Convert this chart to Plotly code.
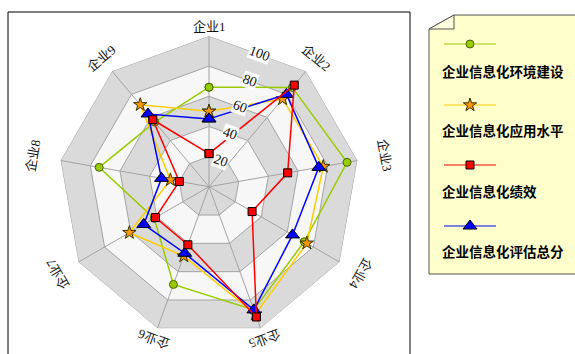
import math
import plotly.graph_objects as go

# ---- data -------------------------------------------------------------
categories = ["企业1", "企业2", "企业3", "企业4", "企业5", "企业6", "企业7", "企业8", "企业9"]
env_build = [66, 86, 93, 73, 87, 69, 42, 74, 56]      # 企业信息化环境建设
app_level = [50, 76, 77, 75, 90, 49, 61, 26, 71]      # 企业信息化应用水平
performance = [22, 88, 53, 33, 92, 41, 41, 20, 58]    # 企业信息化绩效
total_score = [45, 80, 74, 64, 87, 47, 50, 32, 63]    # 企业信息化评估总分
radial_ticks = [20, 40, 60, 80, 100]

series = [
    dict(name="企业信息化环境建设", values=env_build, line="#99cc00",
         marker=dict(symbol="circle", size=8, color="#99cc00", line=dict(color="#4a6300", width=1))),
    dict(name="企业信息化应用水平", values=app_level, line="#ffcc00",
         marker=dict(symbol="star", size=10, color="#ff9900", line=dict(color="#333300", width=1))),
    dict(name="企业信息化绩效", values=performance, line="#ff0000",
         marker=dict(symbol="square", size=8, color="#ff0000", line=dict(color="#000000", width=1))),
    dict(name="企业信息化评估总分", values=total_score, line="#0000ff",
         marker=dict(symbol="triangle-up", size=12, color="#0000ff", line=dict(color="#000000", width=1))),
]
draw_order = [0, 1, 3, 2]

# ---- geometry ---------------------------------------------------------
W, H = 575, 354
CX, CY, R = 209, 186.7, 150.7
RMAX = 100
TICK_DIR = 20  # degrees clockwise from top where radial labels sit

def px(x):
    return x / W

def py(y):
    return 1 - y / H

def polar_xy(r_px, deg):
    a = math.radians(deg)
    return CX + r_px * math.sin(a), CY - r_px * math.cos(a)

fig = go.Figure()

closed = categories + [categories[0]]

# alternating grey / white bands, outermost first
band_colors = {100: "#dadada", 80: "#f7f7f7", 60: "#dadada", 40: "#f7f7f7", 20: "#dadada"}
for lvl in sorted(radial_ticks, reverse=True):
    fig.add_trace(go.Scatterpolar(
        r=[lvl] * len(closed), theta=closed, mode="lines", fill="toself",
        fillcolor=band_colors[lvl], line=dict(color="#a3a3a3", width=1),
        hoverinfo="skip", showlegend=False))

# spokes
spoke_r, spoke_t = [], []
for c in categories:
    spoke_r += [0, RMAX, None]
    spoke_t += [c, c, None]
fig.add_trace(go.Scatterpolar(r=spoke_r, theta=spoke_t, mode="lines",
                              line=dict(color="#a3a3a3", width=1),
                              hoverinfo="skip", showlegend=False, connectgaps=False))

# data series
for i in draw_order:
    s = series[i]
    fig.add_trace(go.Scatterpolar(
        r=s["values"] + [s["values"][0]], theta=closed, mode="lines+markers",
        name=s["name"], line=dict(color=s["line"], width=1.5),
        marker=s["marker"], showlegend=False))

annotations = []

# category labels, rotated tangentially
n = len(categories)
for i, c in enumerate(categories):
    deg = i * 360 / n
    r_lab = 160 + 19 * math.sin(math.radians(deg)) ** 2
    x, y = polar_xy(r_lab, deg)
    annotations.append(dict(
        x=px(x), y=py(y), xref="paper", yref="paper", text=c, showarrow=False,
        textangle=deg, xanchor="center", yanchor="middle",
        font=dict(family="Liberation Serif, Noto Sans CJK SC", size=13, color="#111111")))

# radial tick labels on the polygon edges
for v in radial_ticks:
    r_lab = v / RMAX * R * math.cos(math.radians(180 / n))
    x, y = polar_xy(r_lab, TICK_DIR)
    annotations.append(dict(
        x=px(x + 2), y=py(y), xref="paper", yref="paper", text=str(v), showarrow=False,
        textangle=TICK_DIR, xanchor="center", yanchor="middle", bgcolor="#ffffff",
        borderpad=0,
        font=dict(family="Liberation Serif, Noto Sans CJK SC", size=14, color="#111111")))

# ---- legend panel -----------------------------------------------------
LX0, LY0, LY1, FOLD = 429, 15, 274, 14
leg_line_y = [44, 105, 165, 226]
leg_text_y = [71, 130, 191, 251]

shapes = [
    dict(type="rect", xref="paper", yref="paper", x0=px(8), x1=px(410), y0=py(400), y1=py(12),
         line=dict(color="#000000", width=1), fillcolor="rgba(0,0,0,0)", layer="below"),
    dict(type="path", xref="paper", yref="paper",
         path=(f"M {px(LX0 + 25)} {py(LY0)} L {px(600)} {py(LY0)} L {px(600)} {py(LY1)} "
               f"L {px(LX0)} {py(LY1)} L {px(LX0)} {py(LY0 + FOLD)} Z"),
         fillcolor="#ffffcc", line=dict(color="#555555", width=1), layer="below"),
    dict(type="path", xref="paper", yref="paper",
         path=(f"M {px(LX0)} {py(LY0 + FOLD)} L {px(LX0 + 25)} {py(LY0)} "
               f"L {px(LX0 + 25)} {py(LY0 + FOLD)} Z"),
         fillcolor="#ffffdd", line=dict(color="#555555", width=1), layer="below"),
]

for k, s in enumerate(series):
    y = leg_line_y[k]
    fig.add_trace(go.Scatter(x=[444, 496], y=[y, y], mode="lines",
                             line=dict(color=s["line"], width=1.2),
                             xaxis="x", yaxis="y", hoverinfo="skip", showlegend=False))
    fig.add_trace(go.Scatter(x=[470], y=[y], mode="markers", marker=s["marker"],
                             xaxis="x", yaxis="y", hoverinfo="skip", showlegend=False))
    annotations.append(dict(
        x=px(440), y=py(leg_text_y[k]), xref="paper", yref="paper", text=f"<b>{s['name']}</b>",
        showarrow=False, xanchor="left", yanchor="middle",
        font=dict(family="Noto Sans CJK SC", size=13.5, color="#000000")))

fig.update_layout(
    width=W, height=H, margin=dict(l=0, r=0, t=0, b=0),
    paper_bgcolor="#ffffff", plot_bgcolor="rgba(0,0,0,0)",
    showlegend=False,
    xaxis=dict(range=[0, W], domain=[0, 1], visible=False, fixedrange=True),
    yaxis=dict(range=[H, 0], domain=[0, 1], visible=False, fixedrange=True),
    polar=dict(
        domain=dict(x=[px(CX - R), px(CX + R)], y=[py(CY + R), py(CY - R)]),
        bgcolor="rgba(0,0,0,0)",
        gridshape="linear",
        radialaxis=dict(range=[0, RMAX], visible=False),
        angularaxis=dict(type="category", categoryarray=categories, rotation=90,
                         direction="clockwise", showgrid=False, showline=False,
                         showticklabels=False, ticks=""),
    ),
    shapes=shapes,
    annotations=annotations,
)

fig.write_html("out.html")
